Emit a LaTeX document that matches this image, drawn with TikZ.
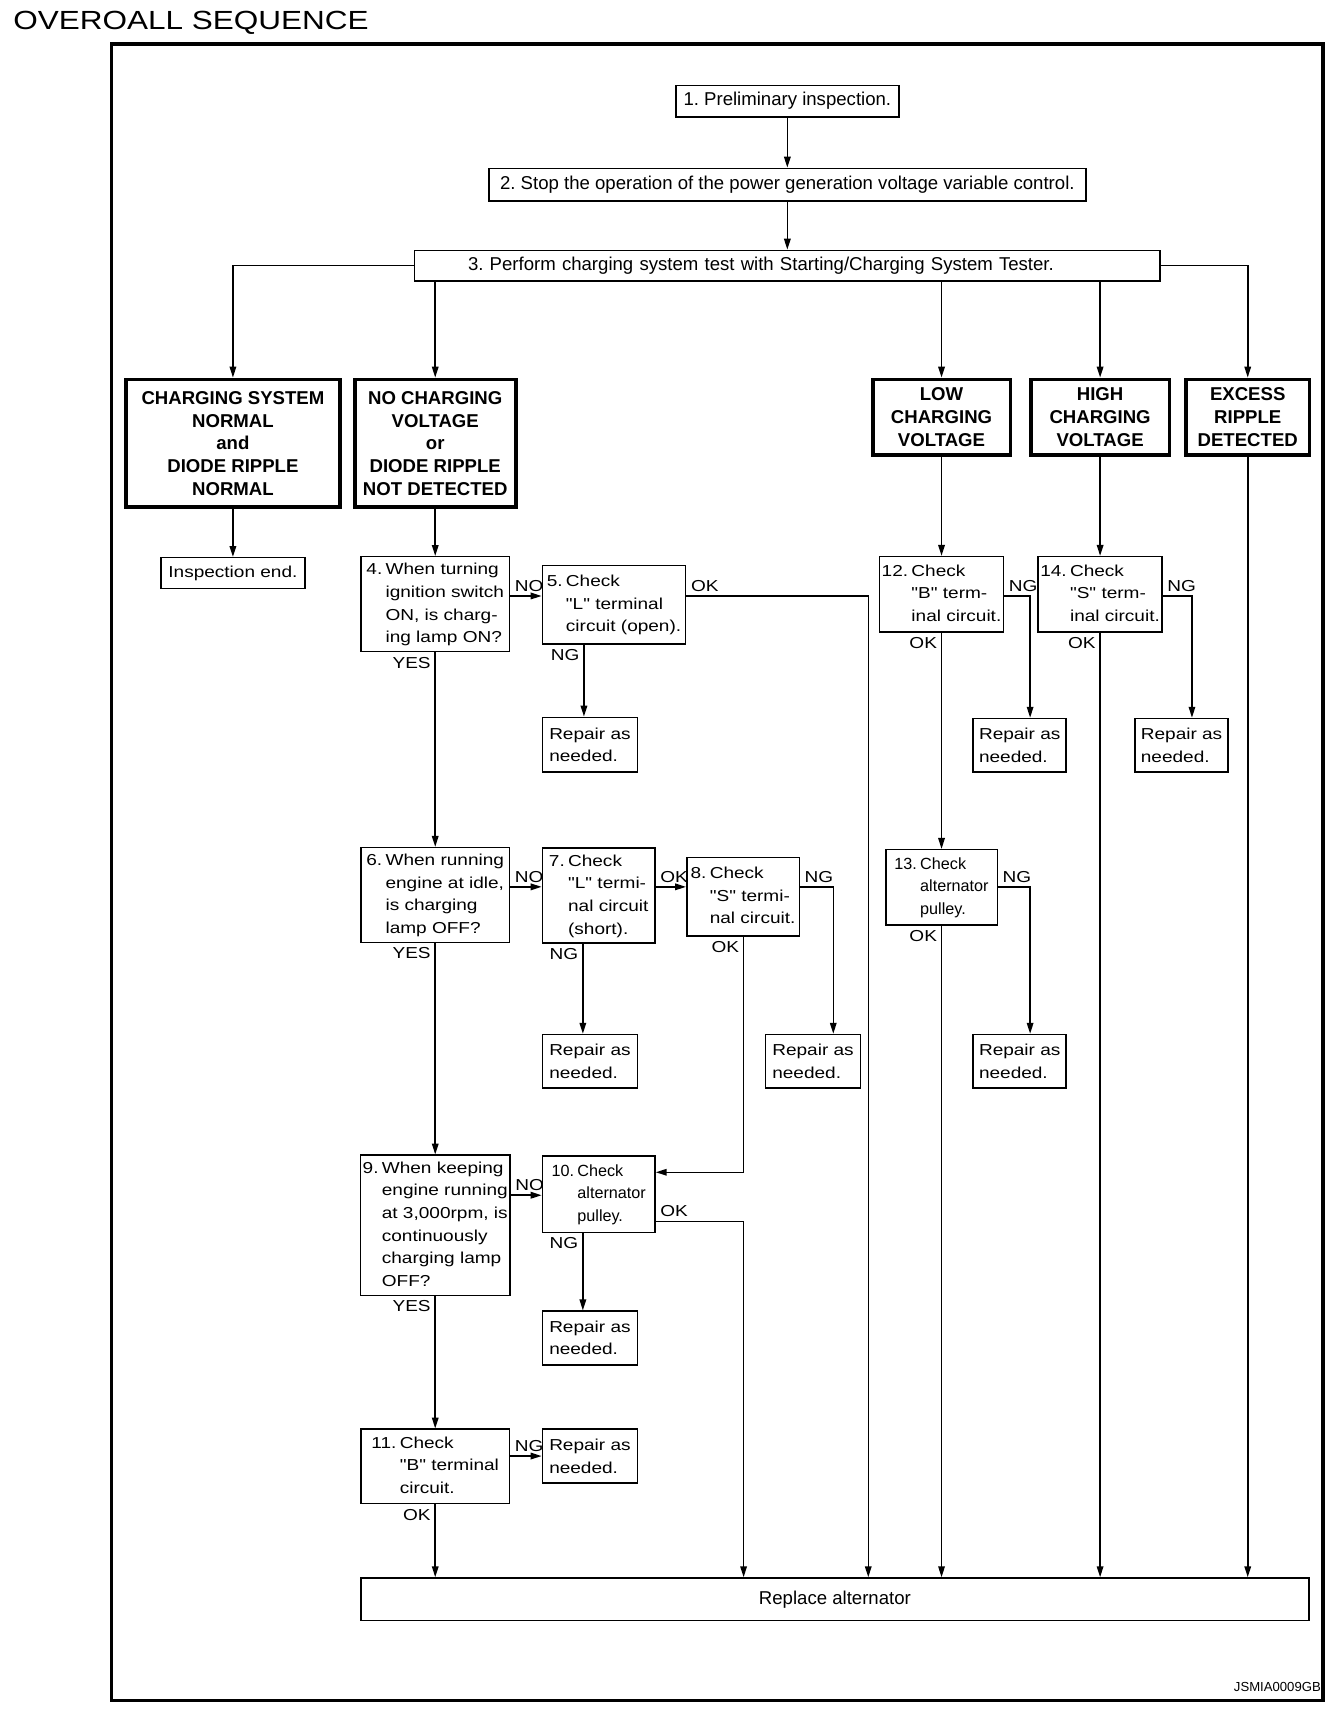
\documentclass[tikz,border=0pt]{standalone}
\usepackage{fontspec}
\setmainfont{Liberation Sans}
\newfontfamily\widefont{Liberation Sans}[FakeStretch=1.2]
\newfontfamily\narrowfont{Liberation Sans}
\usetikzlibrary{arrows.meta, positioning, calc}
\frenchspacing

% number in its own column, the rest hangs under the first word
\newcommand{\steptext}[2]{\begin{tabular}{@{}l@{\hspace{3pt}}l@{}}#1&\begin{tabular}[t]{@{}l@{}}#2\end{tabular}\end{tabular}}

\tikzset{
  box/.style={draw, line width=1.4pt, inner sep=2pt, align=left, font=\widefont\fontsize{14.5}{20.7}\selectfont},
  narrow/.style={font=\narrowfont\fontsize{14.8}{20.7}\selectfont},
  bigbox/.style={draw, line width=1.4pt, inner sep=2pt, font=\narrowfont\fontsize{17}{20}\selectfont},
  result/.style={draw, line width=3.5pt, inner sep=2pt, align=center, font=\narrowfont\bfseries\fontsize{17}{20.7}\selectfont},
  flow/.style={line width=1.4pt, -{Triangle[length=10pt,width=6pt]}},
  tag/.style={font=\widefont\fontsize{14.5}{16}\selectfont, inner sep=3.5pt},
  dims/.style 2 args={minimum width=#1pt, minimum height=#2pt},
}

\begin{document}
\begin{tikzpicture}[x=1pt, y=-1pt]
    \useasboundingbox (0,0) rectangle (1229,1567.4);
    \node[anchor=base west, inner sep=0, font=\widefont\fontsize{24}{28}\selectfont] (title) at (12,27) {OVEROALL SEQUENCE};
    \draw[line width=3.5pt] (102,40) rectangle (1210,1555);

    % Common steps
    \node[bigbox, dims={204}{29}] (s1) at (720,92.5) {1. Preliminary inspection.};
    \node[bigbox, dims={546}{30}] (s2) at (720,169) {2. Stop the operation of the power generation voltage variable control.};
    \node[bigbox, dims={682}{28}, inner xsep=49pt, text width=584pt, align=left] (s3) at (720,243) {3. Perform charging system test with Starting/Charging System Tester.};

    % Test results
    \node[result, dims={196}{117}] (normal) at (213,405.5) {CHARGING SYSTEM\\NORMAL\\and\\DIODE RIPPLE\\NORMAL};
    \node[result, dims={147}{117}] (nocharge) at (398,405.5) {NO CHARGING\\VOLTAGE\\or\\DIODE RIPPLE\\NOT DETECTED};
    \node[result, dims={126}{69}] (low) at (861,381.5) {LOW\\CHARGING\\VOLTAGE};
    \node[result, dims={127}{69}] (high) at (1006,381.5) {HIGH\\CHARGING\\VOLTAGE};
    \node[result, dims={113}{69}] (excess) at (1141,381.5) {EXCESS\\RIPPLE\\DETECTED};
    \node[box, dims={132}{28}] (insend) at (213,524) {Inspection end.};

    % No charging voltage branch
    \node[box, dims={136}{85}] (q4) at (398,552.5) {\steptext{4.}{When turning\\ignition switch\\ON, is charg-\\ing lamp ON?}};
    \node[box, dims={131}{72}] (c5) at (561.5,553) {\steptext{5.}{Check\\"L" terminal\\circuit (open).}};
    \node[box, dims={87}{50}] (r5) at (539.5,681) {Repair as\\needed.};
    \node[box, dims={136}{85}] (q6) at (398,818.5) {\steptext{6.}{When running\\engine at idle,\\is charging\\lamp OFF?}};
    \node[box, dims={103}{84}] (c7) at (547.5,819) {\steptext{7.}{Check\\"L" termi-\\nal circuit\\(short).}};
    \node[box, dims={103}{72}] (c8) at (679.5,820) {\steptext{8.}{Check\\"S" termi-\\nal circuit.}};
    \node[box, dims={87}{49}] (r7) at (539.5,970.5) {Repair as\\needed.};
    \node[box, dims={87}{49}] (r8) at (743.5,970.5) {Repair as\\needed.};
    \node[box, dims={136}{127}] (q9) at (398,1120.5) {\steptext{9.}{When keeping\\engine running\\at 3,000rpm, is\\continuously\\charging lamp\\OFF?}};
    \node[box, narrow, dims={103}{70}] (c10) at (547.5,1092) {\steptext{10.}{Check\\alternator\\pulley.}};
    \node[box, dims={87}{49}] (r10) at (539.5,1223.5) {Repair as\\needed.};
    \node[box, dims={136}{68}] (c11) at (398,1341) {\steptext{11.}{Check\\"B" terminal\\circuit.}};
    \node[box, dims={87}{49}] (r11) at (539.5,1331.5) {Repair as\\needed.};

    % Low / high charging voltage branches
    \node[box, dims={112}{69}] (c12) at (861,543.5) {\steptext{12.}{Check\\"B" term-\\inal circuit.}};
    \node[box, dims={85}{49}] (r12) at (932.5,681.5) {Repair as\\needed.};
    \node[box, narrow, dims={102}{69}] (c13) at (861,811.5) {\steptext{13.}{Check\\alternator\\pulley.}};
    \node[box, dims={85}{49}] (r13) at (932.5,970.5) {Repair as\\needed.};
    \node[box, dims={113}{69}] (c14) at (1006,543.5) {\steptext{14.}{Check\\"S" term-\\inal circuit.}};
    \node[box, dims={85}{49}] (r14) at (1080.5,681.5) {Repair as\\needed.};

    \node[bigbox, dims={867}{39}] (fix) at (763.5,1462.5) {Replace alternator};
    \node[anchor=base east, inner sep=0, font=\narrowfont\fontsize{12}{14}\selectfont] (code) at (1208,1547) {JSMIA0009GB};

    % Connectors
    \draw[flow] (s1) -- (s2);
    \draw[flow] (s2) -- (s3);
    \draw[flow] (s3.west) -| (normal.north);
    \draw[flow] (s3.south -| nocharge.north) -- (nocharge.north);
    \draw[flow] (s3.south -| low.north) -- (low.north);
    \draw[flow] (s3.south -| high.north) -- (high.north);
    \draw[flow] (s3.east) -| (excess.north);
    \draw[flow] (normal) -- (insend);
    \draw[flow] (nocharge) -- (q4);

    \draw[flow] (q4.east |- 0,545) -- node[tag, pos=0, anchor=south west] {NO} (c5.west |- 0,545);
    \draw[flow] (c5.east |- 0,545) -| node[tag, pos=0, anchor=south west] {OK} (fix.north -| 794,0);
    \draw[flow] (c5.south -| 534,0) -- node[tag, pos=0, anchor=north east] {NG} (r5.north -| 534,0);
    \draw[flow] (q4.south) -- node[tag, pos=0, anchor=north east] {YES} (q6.north);

    \draw[flow] (q6.east |- 0,811) -- node[tag, pos=0, anchor=south west] {NO} (c7.west |- 0,811);
    \draw[flow] (c7.east |- 0,811) -- node[tag, pos=0, anchor=south west] {OK} (c8.west |- 0,811);
    \draw[flow] (c8.east |- 0,811) -| node[tag, pos=0, anchor=south west] {NG} (r8.north -| 762,0);
    \draw[flow] (c7.south -| 533,0) -- node[tag, pos=0, anchor=north east] {NG} (r7.north -| 533,0);
    \draw[flow] (c8.south -| 680,0) |- node[tag, pos=0, anchor=north east] {OK} (c10.east |- 0,1072);
    \draw[flow] (q6.south) -- node[tag, pos=0, anchor=north east] {YES} (q9.north);

    \draw[flow] (q9.east |- 0,1093) -- node[tag, pos=0, anchor=south west] {NO} (c10.west |- 0,1093);
    \draw[flow] (c10.east |- 0,1117) -| node[tag, pos=0, anchor=south west] {OK} (fix.north -| 680,0);
    \draw[flow] (c10.south -| 533,0) -- node[tag, pos=0, anchor=north east] {NG} (r10.north -| 533,0);
    \draw[flow] (q9.south) -- node[tag, pos=0, anchor=north east] {YES} (c11.north);
    \draw[flow] (c11.east |- r11.west) -- node[tag, pos=0, anchor=south west] {NG} (r11.west);
    \draw[flow] (c11.south) -- node[tag, pos=0, anchor=north east] {OK} (fix.north -| c11.south);

    \draw[flow] (low) -- (c12);
    \draw[flow] (c12.east |- 0,545) -| node[tag, pos=0, anchor=south west] {NG} (r12.north -| 942,0);
    \draw[flow] (c12.south) -- node[tag, pos=0, anchor=north east] {OK} (c13.north);
    \draw[flow] (c13.east |- 0,811) -| node[tag, pos=0, anchor=south west] {NG} (r13.north -| 942,0);
    \draw[flow] (c13.south) -- node[tag, pos=0, anchor=north east] {OK} (fix.north -| c13.south);

    \draw[flow] (high) -- (c14);
    \draw[flow] (c14.east |- 0,545) -| node[tag, pos=0, anchor=south west] {NG} (r14.north -| 1090,0);
    \draw[flow] (c14.south) -- node[tag, pos=0, anchor=north east] {OK} (fix.north -| c14.south);

    \draw[flow] (excess.south) -- (fix.north -| excess.south);
\end{tikzpicture}
\end{document}
